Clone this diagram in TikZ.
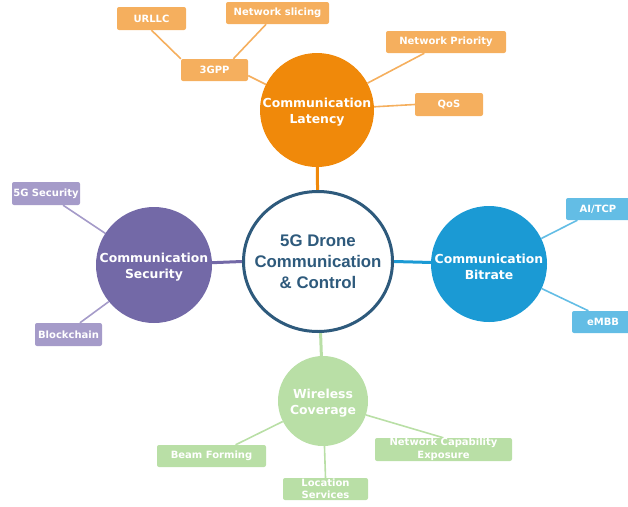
\documentclass[tikz,border=0pt]{standalone}
\usepackage{fontspec}
\setmainfont{DejaVu Sans}
\newfontfamily\arialfont{Liberation Sans}
\usetikzlibrary{backgrounds,calc,shapes.geometric}
\definecolor{hubblue}{HTML}{2E5A7C}
\definecolor{latc}{HTML}{F0890A}
\definecolor{latl}{HTML}{F5AF5E}
\definecolor{secc}{HTML}{7369A7}
\definecolor{secl}{HTML}{A59BC9}
\definecolor{bitc}{HTML}{1B9AD4}
\definecolor{bitl}{HTML}{63BDE5}
\definecolor{wirc}{HTML}{B9DFA6}
\definecolor{wirl}{HTML}{B9DFA6}
\begin{document}
\begin{tikzpicture}[x=1pt,y=-1pt,
  topic/.style={circle, fill=#1, inner sep=0pt},
  topictext/.style={text=white, font=\bfseries\fontsize{12.4}{15.5}\selectfont, align=center, inner sep=0pt},
  leaf/.style={rectangle, rounded corners=2pt, fill=#1, text=white, font=\bfseries\fontsize{10}{12}\selectfont, align=center, inner sep=0pt},
  thin/.style={draw=#1, line width=1.6pt},
  thick/.style={draw=#1, line width=3pt}]
\useasboundingbox (0,0) rectangle (628,506);
\clip (0,0) rectangle (628,506);

% hub
\node[ellipse, draw=hubblue, line width=3pt, fill=white, minimum width=149, minimum height=140, inner sep=0pt]
  (hub) at (318,261.5) {};
\node[text=hubblue, font=\arialfont\bfseries\fontsize{16.8}{21}\selectfont, align=center, inner sep=0pt]
  (hubtext) at (318,262) {5G Drone\\Communication\\\& Control};

% topics
\node[topic=latc, minimum size=114] (lat) at (317,110) {};
\node[topictext] (lattext) at (317,112) {Communication\\Latency};
\node[topic=secc, minimum size=116] (sec) at (154,265) {};
\node[topictext] (sectext) at (154,267) {Communication\\Security};
\node[topic=bitc, minimum size=116] (bit) at (489,264) {};
\node[topictext] (bittext) at (489,267) {Communication\\Bitrate};
\node[topic=wirc, minimum size=90] (wir) at (323,401) {};
\node[topictext] (wirtext) at (323,403) {Wireless\\Coverage};

% latency leaves
\node[leaf=latl, minimum width=67, minimum height=22] (gpp) at (214.5,70) {3GPP};
\node[leaf=latl, minimum width=69, minimum height=23] (urllc) at (151.5,18.5) {URLLC};
\node[leaf=latl, minimum width=103, minimum height=22] (slice) at (277.5,13) {Network slicing};
\node[leaf=latl, minimum width=120, minimum height=22] (prio) at (446,42) {Network Priority};
\node[leaf=latl, minimum width=68, minimum height=23] (qos) at (449,104.5) {QoS};

% security leaves
\node[leaf=secl, minimum width=68, minimum height=23] (fgsec) at (46,193.5) {5G Security};
\node[leaf=secl, minimum width=67, minimum height=23] (block) at (68.5,334.5) {Blockchain};

% bitrate leaves
\node[leaf=bitl, minimum width=72, minimum height=22] (aitcp) at (602,209) {\hspace*{-8pt}AI/TCP};
\node[leaf=bitl, minimum width=66, minimum height=22] (embb) at (605,322) {\hspace*{-4pt}eMBB};

% wireless leaves
\node[leaf=wirl, minimum width=109, minimum height=22] (beam) at (211.5,456) {Beam Forming};
\node[leaf=wirl, minimum width=85, minimum height=22, font=\bfseries\fontsize{10}{12}\selectfont] (loc) at (325.5,489) {Location\\Services};
\node[leaf=wirl, minimum width=137, minimum height=23, font=\bfseries\fontsize{10}{13}\selectfont] (nce) at (443.5,449.5) {Network Capability\\Exposure};

\begin{pgfonlayer}{background}
  \draw[thick=latc] (lat) -- (hub);
  \draw[thick=secc] (sec) -- (hub.west);
  \draw[thick=bitc] (bit) -- (hub.east);
  \draw[thick=wirc] (wir) -- (hub);

  \draw[thin=latl] (urllc.south) -- (gpp.north west);
  \draw[thin=latl] ($(slice.south west)!0.39!(slice.south east)$) -- ($(gpp.north west)!0.78!(gpp.north east)$);
  \draw[thin=latl] ($(gpp.east)!0.5!(gpp.south east)$) -- (lat);
  \draw[thin=latl] ($(prio.south west)!0.32!(prio.south east)$) -- (lat.28);
  \draw[thin=latl] (qos.west) -- (lat);

  \draw[thin=secl] ($(fgsec.south west)!0.75!(fgsec.south east)$) -- (sec.147);
  \draw[thin=secl] ($(block.north west)!0.67!(block.north east)$) -- (sec.219);

  \draw[thin=bitl] ($(aitcp.south west)!0.16!(aitcp.south east)$) -- (bit.26);
  \draw[thin=bitl] ($(embb.north west)!0.25!(embb.north east)$) -- (bit.-25);

  \draw[thin=wirl] ($(beam.north west)!0.72!(beam.north east)$) -- (wir.207);
  \draw[thin=wirl] (loc.north) -- (wir);
  \draw[thin=wirl] (nce.north) -- (wir.-18);
\end{pgfonlayer}
\end{tikzpicture}
\end{document}
